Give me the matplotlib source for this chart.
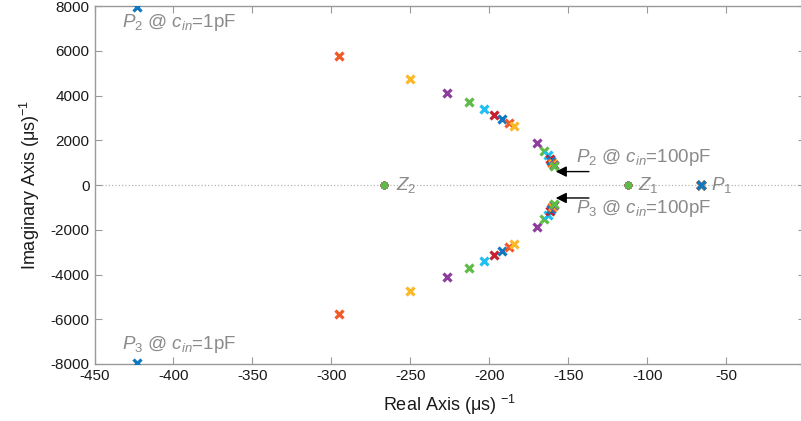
import matplotlib.pyplot as plt
import numpy as np

plt.rcParams['font.family'] = ['Liberation Sans', 'DejaVu Sans']
plt.rcParams['mathtext.fontset'] = 'custom'
plt.rcParams['mathtext.rm'] = 'Liberation Sans'
plt.rcParams['mathtext.it'] = 'Liberation Sans:italic'
plt.rcParams['axes.unicode_minus'] = False

# MATLAB-like colour order, cycled over the c_in series
colors = ['#0F77C0', '#F05A28', '#FDB827', '#8E3C9E', '#5DBB46', '#1FC0EE', '#C8202F']

# c_in series: 1..10 pF, then 20..100 pF
c_in = [1, 2, 3, 4, 5, 6, 7, 8, 9, 10, 20, 30, 40, 50, 60, 70, 80, 90, 100]

# complex pole pair P2/P3 (real part, imaginary part of P2; P3 is the conjugate)
p2_re = [-423, -295, -250, -227, -213, -203.5, -197, -192, -187.5, -184.5,
         -170, -165.5, -163, -161.5, -160.8, -160.2, -159.7, -159.3, -158.8]
p2_im = [7950, 5760, 4740, 4110, 3710, 3380, 3140, 2940, 2770, 2640,
         1860, 1530, 1330, 1150, 1060, 990, 940, 900, 840]

p1_re = -66
z1_re = -112
z2_re = -267

fig = plt.figure(figsize=(8.01, 4.21), dpi=100)
ax = fig.add_axes([0.118, 0.1354, 0.8874, 0.8503])

ax.axhline(0, color='#b5b5b5', ls=':', lw=0.9, zorder=0)
ax.axvline(0, color='#b5b5b5', ls=':', lw=0.9, zorder=0)

n = len(c_in)
for i in range(n):
    col = colors[i % len(colors)]
    ax.plot([z1_re, z2_re], [0, 0], 'o', color=col, ms=4.5, mec=col, zorder=3)
for i in reversed(range(n)):
    col = colors[i % len(colors)]
    ax.plot([p1_re], [0], 'x', color=col, ms=5.5, mew=2.3, zorder=3)
for i in range(n):
    col = colors[i % len(colors)]
    ax.plot([p2_re[i], p2_re[i]], [p2_im[i], -p2_im[i]], 'x', color=col,
            ms=5.5, mew=2.3, zorder=3)

ax.set_xlim(-450, 0)
ax.set_ylim(-8000, 8000)
ax.set_xticks(np.arange(-450, 1, 50))
ax.set_yticks(np.arange(-8000, 8001, 2000))

for s in ax.spines.values():
    s.set_color('#9a9a9a')
    s.set_linewidth(1.0)
ax.tick_params(direction='in', length=5, color='#9a9a9a', labelsize=11,
               labelcolor='#1a1a1a', top=True, right=True)

ax.set_xlabel(r'Real Axis (μs) $^{-1}$', fontsize=13, color='#1a1a1a', labelpad=7)
ax.set_ylabel(r'Imaginary Axis (μs)$^{-1}$', fontsize=13, color='#1a1a1a', labelpad=6)

gray = '#8a8a8a'
tkw = dict(color=gray, fontsize=13.5, va='center', ha='left')
ax.text(-432.5, 7250, r'$P_2$ @ $c_{in}$=1pF', **tkw)
ax.text(-432.5, -7150, r'$P_3$ @ $c_{in}$=1pF', **tkw)
ax.text(-145, 1230, r'$P_2$ @ $c_{in}$=100pF', **tkw)
ax.text(-145, -1030, r'$P_3$ @ $c_{in}$=100pF', **tkw)
ax.text(-106, 0, r'$Z_1$', **tkw)
ax.text(-59.5, 0, r'$P_1$', **tkw)
ax.text(-259, 0, r'$Z_2$', **tkw)

akw = dict(arrowstyle='-|>', color='k', lw=1.0, mutation_scale=16,
           shrinkA=0, shrinkB=0)
ax.annotate('', xy=(-158, 600), xytext=(-137, 600), arrowprops=akw)
ax.annotate('', xy=(-158, -580), xytext=(-137, -580), arrowprops=akw)

fig.savefig('out.png', dpi=100)
